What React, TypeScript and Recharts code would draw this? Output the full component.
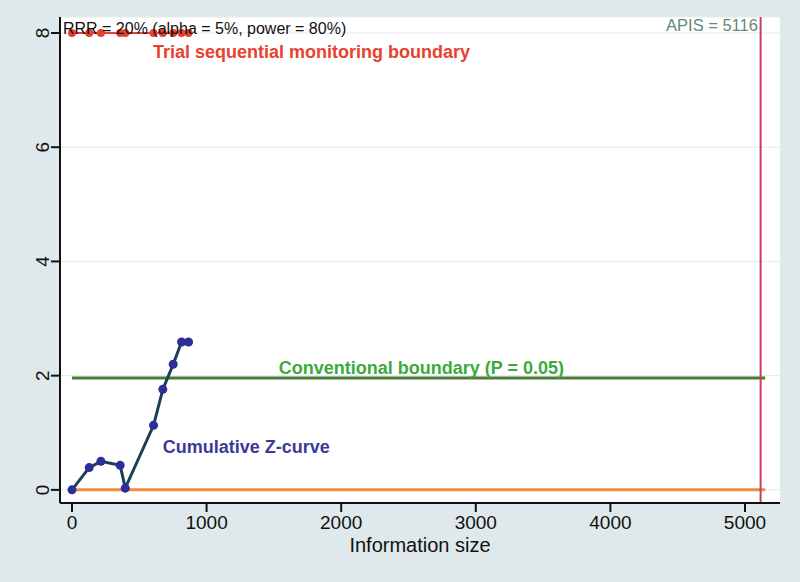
import React from 'react';
import {
  ComposedChart, Line, XAxis, YAxis, CartesianGrid, ReferenceLine, ReferenceDot,
} from 'recharts';

// Information size at each analysis
const infoSize = [0, 128, 215, 358, 396, 606, 675, 752, 814, 866];
// Cumulative Z-curve values
const zCurve = [0, 0.39, 0.5, 0.43, 0.03, 1.13, 1.76, 2.2, 2.59, 2.59];
// Trial sequential monitoring boundary (clipped at 8)
const tsmBoundary = [8, 8, 8, 8, 8, 8, 8, 8, 8, 8];

const xTicks = [0, 1000, 2000, 3000, 4000, 5000];
const yTicks = [0, 2, 4, 6, 8];

const apis = 5116;
const conventional = 1.96;
const lineEnd = 5150;

const annotations = [
  { x: -67, y: 7.99, text: 'RRR = 20% (alpha = 5%, power = 80%)', color: '#111111', weight: 400, anchor: 'start', size: 16 },
  { x: 601, y: 7.57, text: 'Trial sequential monitoring boundary', color: '#e8412f', weight: 700, anchor: 'start', size: 18 },
  { x: 5096, y: 8.04, text: 'APIS = 5116', color: '#5f8a73', weight: 400, anchor: 'end', size: 16.5 },
  { x: 1536, y: 2.03, text: 'Conventional boundary (P = 0.05)', color: '#3cab3c', weight: 700, anchor: 'start', size: 18 },
  { x: 675, y: 0.65, text: 'Cumulative Z-curve', color: '#3a3a98', weight: 700, anchor: 'start', size: 18 },
];

const data = infoSize.map((x, i) => ({ x, z: zCurve[i], b: tsmBoundary[i] }));

const FONT = '"Liberation Sans", Arial, sans-serif';
const NARROW = '"Liberation Sans Narrow", "Liberation Sans", Arial, sans-serif';

const XTick = (props: any) => {
  const { x, y, payload } = props;
  return (
    <text x={x} y={y + 15} textAnchor="middle" fontFamily={NARROW} fontSize={19} fill="#111">
      {payload.value}
    </text>
  );
};

const YTick = (props: any) => {
  const { x, y, payload } = props;
  return (
    <text x={x} y={y} transform={`rotate(-90, ${x}, ${y})`} textAnchor="middle" fontFamily={NARROW} fontSize={19} fill="#111">
      {payload.value}
    </text>
  );
};

const makeLabel = (a: any) => (props: any) => {
  const { viewBox } = props;
  const cx = viewBox.x + (viewBox.width || 0) / 2;
  const cy = viewBox.y + (viewBox.height || 0) / 2;
  return (
    <text x={cx} y={cy} textAnchor={a.anchor} fontFamily={FONT} fontSize={a.size} fontWeight={a.weight} fill={a.color}>
      {a.text}
    </text>
  );
};

export default function App() {
  return (
    <div style={{ position: 'absolute', left: 0, top: 0, width: 800, height: 582, background: '#dfe9eb' }}>
      <ComposedChart width={800} height={582} data={data} margin={{ top: 17, right: 20, bottom: 0, left: 0 }}>
        <CartesianGrid horizontal vertical={false} fill="#ffffff" stroke="#e3ebee" strokeWidth={1} />
        <XAxis
          dataKey="x"
          type="number"
          domain={[-89, 5260]}
          ticks={xTicks}
          allowDataOverflow
          height={79}
          tickSize={9}
          tick={<XTick />}
          axisLine={{ stroke: '#111', strokeWidth: 2 }}
          tickLine={{ stroke: '#111', strokeWidth: 2 }}
          label={{ value: 'Information size', position: 'insideBottom', offset: 30, fontFamily: FONT, fontSize: 20, fill: '#111' }}
        />
        <YAxis
          type="number"
          domain={[-0.23, 8.28]}
          ticks={yTicks}
          allowDataOverflow
          width={60}
          tickSize={9}
          tick={<YTick />}
          axisLine={{ stroke: '#111', strokeWidth: 2 }}
          tickLine={{ stroke: '#111', strokeWidth: 2 }}
        />
        <ReferenceLine segment={[{ x: 0, y: 0 }, { x: lineEnd, y: 0 }]} stroke="#f08c3c" strokeWidth={3} />
        <ReferenceLine segment={[{ x: 0, y: conventional }, { x: lineEnd, y: conventional }]} stroke="#4b7a3b" strokeWidth={3} />
        <ReferenceLine x={apis} stroke="#cc3d5a" strokeWidth={2} />
        <Line
          dataKey="b"
          stroke="#e8412f"
          strokeWidth={2}
          dot={{ r: 4, fill: '#e8412f', stroke: '#e8412f', strokeWidth: 0 }}
          isAnimationActive={false}
        />
        <Line
          dataKey="z"
          stroke="#1c3f58"
          strokeWidth={3}
          dot={{ r: 4.5, fill: '#2d2d9a', stroke: '#2d2d9a', strokeWidth: 0 }}
          isAnimationActive={false}
        />
        {annotations.map((a, i) => (
          <ReferenceDot key={i} x={a.x} y={a.y} r={0} fill="none" stroke="none" ifOverflow="visible" label={makeLabel(a)} />
        ))}
      </ComposedChart>
    </div>
  );
}
